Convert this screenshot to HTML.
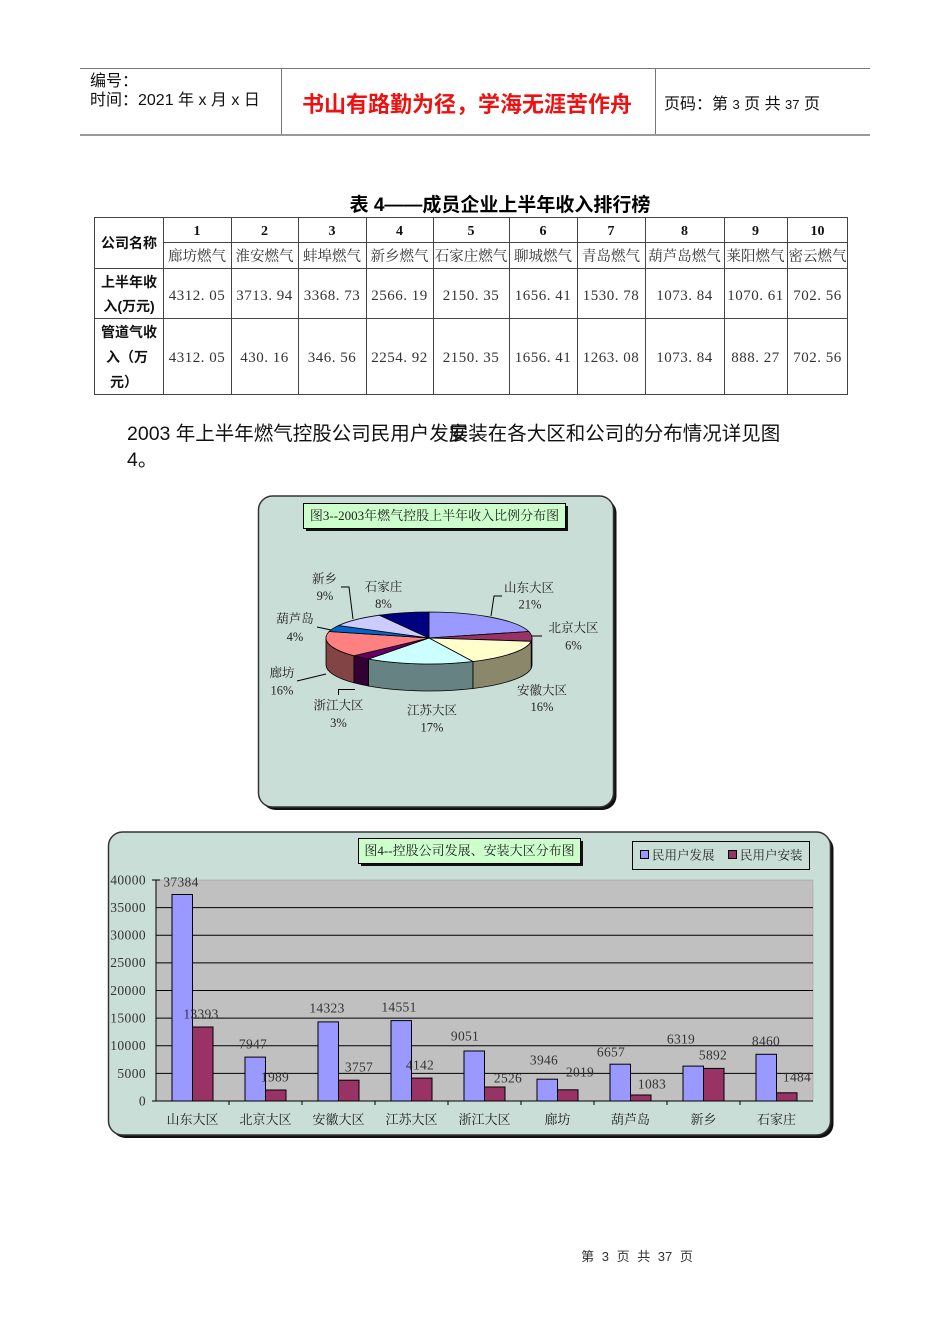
<!DOCTYPE html>
<html>
<head>
<meta charset="utf-8">
<style>
  html, body { margin:0; padding:0; background:#fff; }
  body { width:950px; height:1344px; position:relative; overflow:hidden; }
  svg { position:absolute; left:0; top:0; }
  .sans { font-family:"Liberation Sans","Noto Sans CJK SC",sans-serif; }
  .serif { font-family:"Liberation Serif","Noto Serif CJK SC",serif; }
</style>
</head>
<body>
<svg width="950" height="1344" viewBox="0 0 950 1344" xmlns="http://www.w3.org/2000/svg">
  <!-- ===== Header ===== -->
  <line x1="80" y1="68.5" x2="870" y2="68.5" stroke="#777" stroke-width="1"/>
  <line x1="80" y1="135" x2="870" y2="135" stroke="#999" stroke-width="2"/>
  <line x1="281.5" y1="68" x2="281.5" y2="134" stroke="#777" stroke-width="1"/>
  <line x1="655.5" y1="68" x2="655.5" y2="134" stroke="#777" stroke-width="1"/>
  <text class="sans" x="90" y="86" font-size="16" fill="#111">编号：</text>
  <text class="sans" x="90" y="105" font-size="16" fill="#111">时间：2021 年 x 月 x 日</text>
  <text x="302" y="112" font-size="22" font-weight="bold" fill="#ee1111" font-family="'Noto Sans CJK SC',sans-serif">书山有路勤为径，学海无涯苦作舟</text>
  <text class="sans" x="664" y="109" font-size="16" fill="#111">页码：第 <tspan font-size="13">3</tspan> 页  共 <tspan font-size="13">37</tspan> 页</text>

  <!-- ===== Table title ===== -->
  <text class="sans" x="500" y="211" font-size="19" font-weight="bold" text-anchor="middle" fill="#000">表 4——成员企业上半年收入排行榜</text>

  <!-- ===== Table grid ===== -->
  <g stroke="#444" stroke-width="1">
    <line x1="94" y1="217.5" x2="848" y2="217.5"/>
    <line x1="163" y1="242.5" x2="848" y2="242.5"/>
    <line x1="94" y1="268.5" x2="848" y2="268.5"/>
    <line x1="94" y1="318.5" x2="848" y2="318.5"/>
    <line x1="94" y1="394.5" x2="848" y2="394.5"/>
    <line x1="94.5" y1="217" x2="94.5" y2="395"/>
    <line x1="163.5" y1="217" x2="163.5" y2="395"/>
    <line x1="231.5" y1="217" x2="231.5" y2="395"/>
    <line x1="298.5" y1="217" x2="298.5" y2="395"/>
    <line x1="366.5" y1="217" x2="366.5" y2="395"/>
    <line x1="433.5" y1="217" x2="433.5" y2="395"/>
    <line x1="509.5" y1="217" x2="509.5" y2="395"/>
    <line x1="577.5" y1="217" x2="577.5" y2="395"/>
    <line x1="645.5" y1="217" x2="645.5" y2="395"/>
    <line x1="724.5" y1="217" x2="724.5" y2="395"/>
    <line x1="787.5" y1="217" x2="787.5" y2="395"/>
    <line x1="847.5" y1="217" x2="847.5" y2="395"/>
  </g>

  <!-- row headers -->
  <g class="sans" font-size="14" font-weight="bold" fill="#111" text-anchor="middle">
    <text x="129" y="248">公司名称</text>
    <text x="129" y="287">上半年收</text>
    <text x="129" y="311">入(万元)</text>
    <text x="129" y="337">管道气收</text>
    <text x="127" y="362">入（万</text>
    <text x="124" y="387">元）</text>
  </g>

  <!-- rank numbers -->
  <g class="serif" font-size="14" font-weight="bold" fill="#111" text-anchor="middle">
    <text x="197" y="235">1</text>
    <text x="264.5" y="235">2</text>
    <text x="332" y="235">3</text>
    <text x="399.5" y="235">4</text>
    <text x="471" y="235">5</text>
    <text x="543" y="235">6</text>
    <text x="611" y="235">7</text>
    <text x="684.5" y="235">8</text>
    <text x="755.5" y="235">9</text>
    <text x="817.5" y="235">10</text>
  </g>

  <!-- company names -->
  <g class="serif" font-size="14.5" fill="#333" text-anchor="middle">
    <text x="197" y="261">廊坊燃气</text>
    <text x="264.5" y="261">淮安燃气</text>
    <text x="332" y="261">蚌埠燃气</text>
    <text x="399.5" y="261">新乡燃气</text>
    <text x="471" y="261">石家庄燃气</text>
    <text x="543" y="261">聊城燃气</text>
    <text x="611" y="261">青岛燃气</text>
    <text x="684.5" y="261">葫芦岛燃气</text>
    <text x="755.5" y="261">莱阳燃气</text>
    <text x="817.5" y="261">密云燃气</text>
  </g>

  <!-- values -->
  <g class="serif" font-size="15" fill="#333" text-anchor="middle" letter-spacing="0.5" xml:space="preserve">
    <text x="197" y="300">4312. 05</text>
    <text x="264.5" y="300">3713. 94</text>
    <text x="332" y="300">3368. 73</text>
    <text x="399.5" y="300">2566. 19</text>
    <text x="471" y="300">2150. 35</text>
    <text x="543" y="300">1656. 41</text>
    <text x="611" y="300">1530. 78</text>
    <text x="684.5" y="300">1073. 84</text>
    <text x="755.5" y="300">1070. 61</text>
    <text x="817.5" y="300">702. 56</text>

    <text x="197" y="362">4312. 05</text>
    <text x="264.5" y="362">430. 16</text>
    <text x="332" y="362">346. 56</text>
    <text x="399.5" y="362">2254. 92</text>
    <text x="471" y="362">2150. 35</text>
    <text x="543" y="362">1656. 41</text>
    <text x="611" y="362">1263. 08</text>
    <text x="684.5" y="362">1073. 84</text>
    <text x="755.5" y="362">888. 27</text>
    <text x="817.5" y="362">702. 56</text>
  </g>

  <!-- ===== Paragraph ===== -->
  <g font-family="'Liberation Sans','Noto Sans CJK SC',sans-serif" font-size="19.5" fill="#111">
    <text x="127" y="440">2003 年上半年燃气控股公司民用户发</text>
    <text x="448.8" y="440">展装在各大区和公司的分布情况详见图</text>
    <text x="448.8" y="440">安</text>
    <text x="127" y="466">4。</text>
  </g>

  <!-- ===== Pie chart box ===== -->
  <rect x="261.5" y="499" width="355" height="311" rx="14" fill="#111"/>
  <rect x="258.5" y="496" width="355" height="311" rx="14" fill="#c9ded6" stroke="#333" stroke-width="1.5"/>
  <rect x="306" y="506" width="262" height="25" fill="#111"/>
  <rect x="303.5" y="503.5" width="262" height="25" fill="#ccffcc" stroke="#000" stroke-width="1"/>
  <text class="serif" x="434.5" y="520" font-size="13" text-anchor="middle" fill="#222">图3--2003年燃气控股上半年收入比例分布图</text>

  <!-- pie sides -->
  <g stroke="#000" stroke-width="0.8">
    <path d="M532,638 A103,26 0 0 1 531.2,641.3 L531.2,668.3 A103,26 0 0 0 532,665 Z" fill="#4d1a33"/>
    <path d="M531.2,641.3 A103,26 0 0 1 472.9,661.5 L472.9,688.5 A103,26 0 0 0 531.2,668.3 Z" fill="#8a876a"/>
    <path d="M472.9,661.5 A103,26 0 0 1 368.5,659 L368.5,686 A103,26 0 0 0 472.9,688.5 Z" fill="#678282"/>
    <path d="M368.5,659 A103,26 0 0 1 353.9,655.8 L353.9,682.8 A103,26 0 0 0 368.5,686 Z" fill="#330033"/>
    <path d="M353.9,655.8 A103,26 0 0 1 326,638 L326,665 A103,26 0 0 0 353.9,682.8 Z" fill="#824444"/>
  </g>
  <!-- pie top -->
  <g stroke="#000" stroke-width="0.8">
    <path d="M429,638 L429,612 A103,26 0 0 1 528.8,631.5 Z" fill="#9999ff"/>
    <path d="M429,638 L528.8,631.5 A103,26 0 0 1 531.2,641.3 Z" fill="#993366"/>
    <path d="M429,638 L531.2,641.3 A103,26 0 0 1 472.9,661.5 Z" fill="#ffffcc"/>
    <path d="M429,638 L472.9,661.5 A103,26 0 0 1 368.5,659 Z" fill="#ccffff"/>
    <path d="M429,638 L368.5,659 A103,26 0 0 1 353.9,655.8 Z" fill="#660066"/>
    <path d="M429,638 L353.9,655.8 A103,26 0 0 1 329.2,631.5 Z" fill="#ff8080"/>
    <path d="M429,638 L329.2,631.5 A103,26 0 0 1 338.7,625.5 Z" fill="#0066cc"/>
    <path d="M429,638 L338.7,625.5 A103,26 0 0 1 379.4,615.2 Z" fill="#ccccff"/>
    <path d="M429,638 L379.4,615.2 A103,26 0 0 1 429,612 Z" fill="#000080"/>
  </g>

  <!-- leader lines -->
  <g stroke="#000" stroke-width="1" fill="none">
    <polyline points="341,587 349,587 353,619"/>
    <polyline points="502,596 494,596 491,616"/>
    <polyline points="532,636 542,636"/>
    <polyline points="317,627 331,630"/>
    <polyline points="297,681 326,674"/>
    <polyline points="338.5,695 338.5,689.5 355,689.5"/>
  </g>

  <!-- pie labels -->
  <g class="serif" font-size="12.5" fill="#222" text-anchor="middle">
    <text x="324.5" y="583">新乡</text>
    <text x="325" y="600">9%</text>
    <text x="383.5" y="591">石家庄</text>
    <text x="383.5" y="608">8%</text>
    <text x="529" y="592">山东大区</text>
    <text x="530" y="608.5">21%</text>
    <text x="573.5" y="632">北京大区</text>
    <text x="573.5" y="649.5">6%</text>
    <text x="295" y="623">葫芦岛</text>
    <text x="295" y="641">4%</text>
    <text x="282" y="677">廊坊</text>
    <text x="282" y="694.5">16%</text>
    <text x="338.5" y="709.5">浙江大区</text>
    <text x="338.5" y="727">3%</text>
    <text x="432" y="714.5">江苏大区</text>
    <text x="432" y="731.5">17%</text>
    <text x="542" y="694.5">安徽大区</text>
    <text x="542" y="711">16%</text>
  </g>

  <!-- ===== Bar chart box ===== -->
  <rect x="111.5" y="835" width="722" height="303" rx="14" fill="#111"/>
  <rect x="108.5" y="832" width="722" height="303" rx="14" fill="#c9ded6" stroke="#333" stroke-width="1.5"/>

  <!-- plot area -->
  <rect x="156" y="880" width="657" height="221" fill="#c0c0c0" stroke="#999" stroke-width="0.5"/>
  <g stroke="#000" stroke-width="1">
    <line x1="156" y1="907.6" x2="813" y2="907.6"/>
    <line x1="156" y1="935.3" x2="813" y2="935.3"/>
    <line x1="156" y1="962.9" x2="813" y2="962.9"/>
    <line x1="156" y1="990.5" x2="813" y2="990.5"/>
    <line x1="156" y1="1018.1" x2="813" y2="1018.1"/>
    <line x1="156" y1="1045.8" x2="813" y2="1045.8"/>
    <line x1="156" y1="1073.4" x2="813" y2="1073.4"/>
    <line x1="152" y1="1101" x2="813" y2="1101"/>
    <line x1="156" y1="880" x2="156" y2="1101"/>
    <line x1="152" y1="880" x2="160" y2="880"/>
  </g>
  <g stroke="#000" stroke-width="1">
    <line x1="229" y1="1101" x2="229" y2="1105"/>
    <line x1="302" y1="1101" x2="302" y2="1105"/>
    <line x1="375" y1="1101" x2="375" y2="1105"/>
    <line x1="448" y1="1101" x2="448" y2="1105"/>
    <line x1="521" y1="1101" x2="521" y2="1105"/>
    <line x1="594" y1="1101" x2="594" y2="1105"/>
    <line x1="667" y1="1101" x2="667" y2="1105"/>
    <line x1="740" y1="1101" x2="740" y2="1105"/>
  </g>

  <!-- y tick labels -->
  <g class="serif" font-size="13.5" fill="#333" text-anchor="end" letter-spacing="0.4">
    <text x="146" y="884.5">40000</text>
    <text x="146" y="912">35000</text>
    <text x="146" y="939.5">30000</text>
    <text x="146" y="967">25000</text>
    <text x="146" y="995">20000</text>
    <text x="146" y="1022.5">15000</text>
    <text x="146" y="1050">10000</text>
    <text x="146" y="1078">5000</text>
    <text x="146" y="1105.5">0</text>
  </g>

  <!-- bars -->
  <g stroke="#000" stroke-width="1">
    <rect x="172" y="894.5" width="20.5" height="206.5" fill="#9999ff"/>
    <rect x="192.5" y="1027" width="20.5" height="74" fill="#993366"/>
    <rect x="245" y="1057.1" width="20.5" height="43.9" fill="#9999ff"/>
    <rect x="265.5" y="1090" width="20.5" height="11" fill="#993366"/>
    <rect x="318" y="1021.9" width="20.5" height="79.1" fill="#9999ff"/>
    <rect x="338.5" y="1080.2" width="20.5" height="20.8" fill="#993366"/>
    <rect x="391" y="1020.6" width="20.5" height="80.4" fill="#9999ff"/>
    <rect x="411.5" y="1078.1" width="20.5" height="22.9" fill="#993366"/>
    <rect x="464" y="1051" width="20.5" height="50" fill="#9999ff"/>
    <rect x="484.5" y="1087" width="20.5" height="14" fill="#993366"/>
    <rect x="537" y="1079.2" width="20.5" height="21.8" fill="#9999ff"/>
    <rect x="557.5" y="1089.8" width="20.5" height="11.2" fill="#993366"/>
    <rect x="610" y="1064.2" width="20.5" height="36.8" fill="#9999ff"/>
    <rect x="630.5" y="1095" width="20.5" height="6" fill="#993366"/>
    <rect x="683" y="1066.1" width="20.5" height="34.9" fill="#9999ff"/>
    <rect x="703.5" y="1068.4" width="20.5" height="32.6" fill="#993366"/>
    <rect x="756" y="1054.3" width="20.5" height="46.7" fill="#9999ff"/>
    <rect x="776.5" y="1092.8" width="20.5" height="8.2" fill="#993366"/>
  </g>

  <!-- data labels -->
  <g class="serif" font-size="13.5" fill="#333" text-anchor="middle" letter-spacing="0.3">
    <text x="181" y="886.5">37384</text>
    <text x="201" y="1018.5">13393</text>
    <text x="253" y="1048.5">7947</text>
    <text x="275" y="1081.5">1989</text>
    <text x="327" y="1012.5">14323</text>
    <text x="359" y="1071.5">3757</text>
    <text x="399" y="1011.5">14551</text>
    <text x="420" y="1069.5">4142</text>
    <text x="465" y="1040.5">9051</text>
    <text x="508" y="1082.5">2526</text>
    <text x="544" y="1064.5">3946</text>
    <text x="580" y="1076.5">2019</text>
    <text x="611" y="1056.5">6657</text>
    <text x="652" y="1088.5">1083</text>
    <text x="681" y="1043.5">6319</text>
    <text x="713" y="1059.5">5892</text>
    <text x="766" y="1045.5">8460</text>
    <text x="797" y="1081.5">1484</text>
  </g>

  <!-- category labels -->
  <g class="serif" font-size="13" fill="#222" text-anchor="middle">
    <text x="192.5" y="1124">山东大区</text>
    <text x="265.5" y="1124">北京大区</text>
    <text x="338.5" y="1124">安徽大区</text>
    <text x="411.5" y="1124">江苏大区</text>
    <text x="484.5" y="1124">浙江大区</text>
    <text x="557.5" y="1124">廊坊</text>
    <text x="630.5" y="1124">葫芦岛</text>
    <text x="703.5" y="1124">新乡</text>
    <text x="776.5" y="1124">石家庄</text>
  </g>

  <!-- title box -->
  <rect x="361" y="841" width="222" height="25" fill="#111"/>
  <rect x="358.5" y="838.5" width="222" height="25" fill="#ccffcc" stroke="#000" stroke-width="1"/>
  <text class="serif" x="469.5" y="855" font-size="13" text-anchor="middle" fill="#222">图4--控股公司发展、安装大区分布图</text>

  <!-- legend -->
  <rect x="632.5" y="841.5" width="177" height="28" fill="#c9ded6" stroke="#000" stroke-width="1"/>
  <rect x="640.5" y="850.5" width="8" height="8" fill="#9999ff" stroke="#000" stroke-width="1"/>
  <text class="serif" x="652" y="859.5" font-size="12.5" fill="#222">民用户发展</text>
  <rect x="728.5" y="850.5" width="8" height="8" fill="#993366" stroke="#000" stroke-width="1"/>
  <text class="serif" x="740" y="859.5" font-size="12.5" fill="#222">民用户安装</text>

  <!-- ===== Footer ===== -->
  <text class="sans" x="637" y="1261" font-size="13" fill="#333" text-anchor="middle" word-spacing="4">第 3 页 共 37 页</text>
</svg>
</body>
</html>
